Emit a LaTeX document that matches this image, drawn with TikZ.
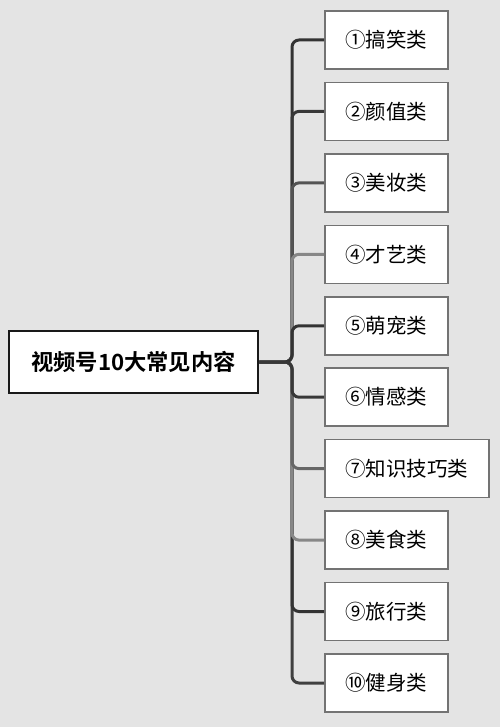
\documentclass[tikz,border=0pt]{standalone}
\usepackage{fontspec}
\setmainfont{Noto Sans CJK SC}
\newfontfamily\cjkb{Noto Sans CJK SC Bold}
\begin{document}
\begin{tikzpicture}[x=1pt,y=-1pt,
  leaf/.style={draw=black!55,line width=1.5pt,fill=white,minimum height=58pt,minimum width=123pt,inner sep=0pt,font=\fontsize{20.5}{24}\selectfont,anchor=west},
  rootbox/.style={draw=black!90,line width=2.5pt,fill=white,minimum height=62pt,minimum width=249pt,inner sep=0pt,font=\cjkb\fontsize{22.3}{26}\selectfont},
  conn/.style={line width=3pt,rounded corners=7pt}]
\useasboundingbox (0,0) rectangle (500,727);
\fill[black!10.5] (0,0) rectangle (500,727);
\node[rootbox] (r) at (133.5,362) {视频号10大常见内容};
\coordinate (j) at (292,362);
\node[leaf] (c1) at (324,40) {①搞笑类};
\node[leaf] (c2) at (324,111.4) {②颜值类};
\node[leaf] (c3) at (324,182.9) {③美妆类};
\node[leaf] (c4) at (324,254.3) {④才艺类};
\node[leaf] (c5) at (324,325.8) {⑤萌宠类};
\node[leaf] (c6) at (324,397.2) {⑥情感类};
\node[leaf,minimum width=164pt] (c7) at (324,468.6) {⑦知识技巧类};
\node[leaf] (c8) at (324,540.1) {⑧美食类};
\node[leaf] (c9) at (324,611.5) {⑨旅行类};
\node[leaf] (c10) at (324,683) {⑩健身类};
\draw[conn,color=black!80] (r.east) -- (j) -- (j |- c1.west) -- (c1.west);
\draw[conn,color=black!75] (r.east) -- (j) -- (j |- c10.west) -- (c10.west);
\draw[conn,color=black!78] (r.east) -- (j) -- (j |- c2.west) -- (c2.west);
\draw[conn,color=black!80] (r.east) -- (j) -- (j |- c9.west) -- (c9.west);
\draw[conn,color=black!67] (r.east) -- (j) -- (j |- c3.west) -- (c3.west);
\draw[conn,color=black!47] (r.east) -- (j) -- (j |- c8.west) -- (c8.west);
\draw[conn,color=black!47] (r.east) -- (j) -- (j |- c4.west) -- (c4.west);
\draw[conn,color=black!60] (r.east) -- (j) -- (j |- c7.west) -- (c7.west);
\draw[conn,color=black!80] (r.east) -- (j) -- (j |- c5.west) -- (c5.west);
\draw[conn,color=black!78] (r.east) -- (j) -- (j |- c6.west) -- (c6.west);
\end{tikzpicture}
\end{document}
